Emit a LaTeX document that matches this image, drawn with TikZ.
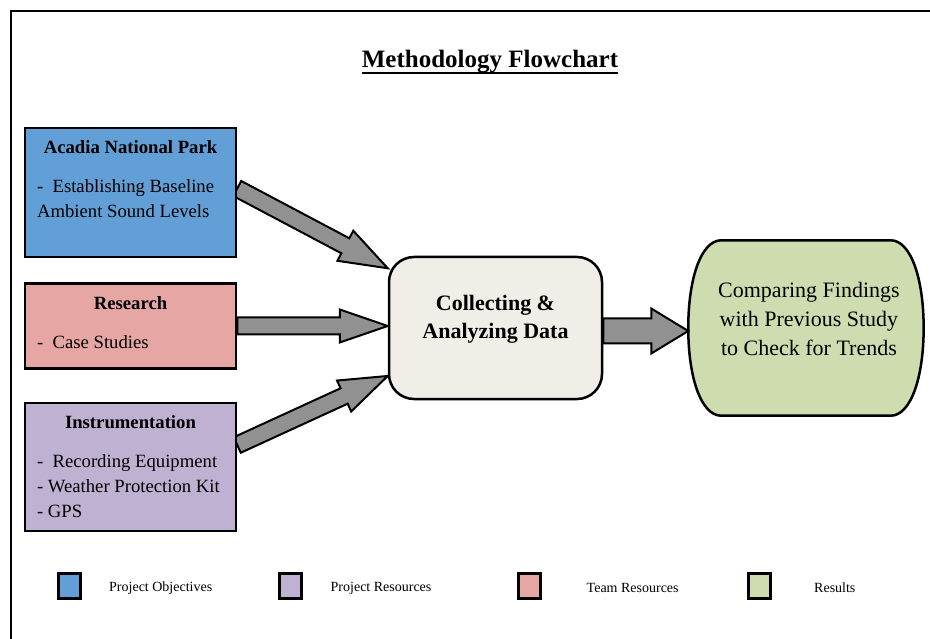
\documentclass[tikz,border=0pt]{standalone}
\usepackage{fontspec}
\setmainfont{Liberation Serif}
\usepackage{tikz}
\usetikzlibrary{calc,positioning,backgrounds}
\definecolor{ObjBlue}{RGB}{98,159,214}
\definecolor{TeamPink}{RGB}{229,166,164}
\definecolor{ResPurple}{RGB}{191,177,210}
\definecolor{ResultGreen}{RGB}{207,220,175}
\definecolor{DataBeige}{RGB}{241,238,231}
\definecolor{ArrowGray}{RGB}{145,145,145}
\tikzset{
  sidebox/.style={rectangle, draw=black, line width=2.5pt, minimum width=211pt, inner xsep=12pt, inner ysep=13pt, font=\fontsize{18.7}{25}\selectfont},
  databox/.style={rectangle, rounded corners=25pt, draw=black, line width=2.5pt, fill=DataBeige, inner sep=0pt, font=\fontsize{22}{28}\selectfont\bfseries},
  resultbox/.style={rectangle, inner sep=0pt, font=\fontsize{22}{29}\selectfont},
  resultline/.style={draw=black, line width=2.5pt, fill=ResultGreen},
  bigarrow/.style={draw=black, line width=2pt, fill=ArrowGray, line join=miter},
  legkey/.style={rectangle, draw=black, line width=3pt, minimum width=22pt, minimum height=25pt, inner sep=0pt},
  legtext/.style={inner sep=0pt, yshift=-2pt, font=\fontsize{14}{16}\selectfont}
}
% box text: centred bold heading, then the items
\newcommand{\sidetext}[3]{\parbox[c][#1][t]{187pt}{{\centering\bfseries #2\par}\vspace{14pt}\raggedright #3}}
% centred text, lifted a bit above the middle
\newcommand{\midtext}[3]{\parbox[c][#1][c]{#2}{\centering #3\par\vspace{18pt}}}
% block arrow: from, to, shaft width, head width, head length
\newcommand{\fatarrow}[5]{%
  \draw [bigarrow] let \p1=(#1), \p2=(#2), \n1={atan2(\y2-\y1,\x2-\x1)}, \n2={veclen(\x2-\x1,\y2-\y1)} in
    [shift={(\p1)}, rotate=\n1] (0,{#3/2}) -- ({\n2-#5},{#3/2}) -- ({\n2-#5},{#4/2}) -- (\n2,0)
    -- ({\n2-#5},{-#4/2}) -- ({\n2-#5},{-#3/2}) -- (0,{-#3/2}) -- cycle;}

\begin{document}
\begin{tikzpicture}[x=1pt, y=-1pt]
    \useasboundingbox (0,0) rectangle (930,639);
    \draw [line width=2.5pt] (11,11) rectangle (1000,700);
    \node [font=\fontsize{25}{30}\selectfont\bfseries, inner sep=0pt, anchor=base] (title) at (490,68) {Methodology Flowchart};
    \draw [line width=2pt] ([yshift=-5pt]title.base west) -- ([yshift=-5pt]title.base east);
    % inputs
    \node [sidebox, fill=ObjBlue] (acadia) at (130.5,192.5) {\sidetext{103pt}{Acadia National Park}{-\ \ Establishing Baseline\\Ambient Sound Levels}};
    \node [sidebox, fill=TeamPink, below=24pt of acadia] (research) {\sidetext{59pt}{Research}{-\ \ Case Studies}};
    \node [sidebox, fill=ResPurple, below=32pt of research] (instr) {\sidetext{102pt}{Instrumentation}{-\ \ Recording Equipment\\- Weather Protection Kit\\- GPS}};
    \node [databox] (collect) at (495.5,328) {\midtext{142pt}{213pt}{Collecting \&\\Analyzing Data}};
    \node [resultbox, right=85pt of collect] (results) {\midtext{175pt}{235pt}{\hspace*{6pt}Comparing Findings\\\hspace*{6pt}with Previous Study\\\hspace*{6pt}to Check for Trends}};
    \coordinate (dataout) at ([yshift=-3pt]collect.east);
    \begin{scope}[on background layer]
    % bulging sides of the result box
    \draw [resultline] ([xshift=33pt]results.north west) -- ([xshift=-33pt]results.north east)
        .. controls +(20,0) and +(0,-50) .. (results.east)
        .. controls +(0,50) and +(20,0) .. ([xshift=-33pt]results.south east)
        -- ([xshift=33pt]results.south west)
        .. controls +(-20,0) and +(0,50) .. (results.west)
        .. controls +(0,-50) and +(-20,0) .. cycle;
    % arrows
    \fatarrow{[yshift=4pt]acadia.east}{collect.151}{17}{34}{48}
    \fatarrow{research.east}{research.east -| collect.west}{17}{33}{48}
    \fatarrow{[yshift=22pt]instr.east}{collect.204}{17}{34}{48}
    \fatarrow{dataout}{dataout -| results.west}{25}{45}{37}
    \end{scope}
    % legend
    \node [legkey, fill=ObjBlue] (keyobj) at (69.5,586) {};
    \node [legtext, right=27pt of keyobj] (txtobj) {Project Objectives};
    \node [legkey, fill=ResPurple] (keyres) at (290,586) {};
    \node [legtext, right=28pt of keyres] (txtres) {Project Resources};
    \node [legkey, fill=TeamPink] (keyteam) at (529,586) {};
    \node [legtext, right=45pt of keyteam] (txtteam) {Team Resources};
    \node [legkey, fill=ResultGreen] (keyresult) at (759.5,586) {};
    \node [legtext, right=42pt of keyresult] (txtresult) {Results};
\end{tikzpicture}
\end{document}
